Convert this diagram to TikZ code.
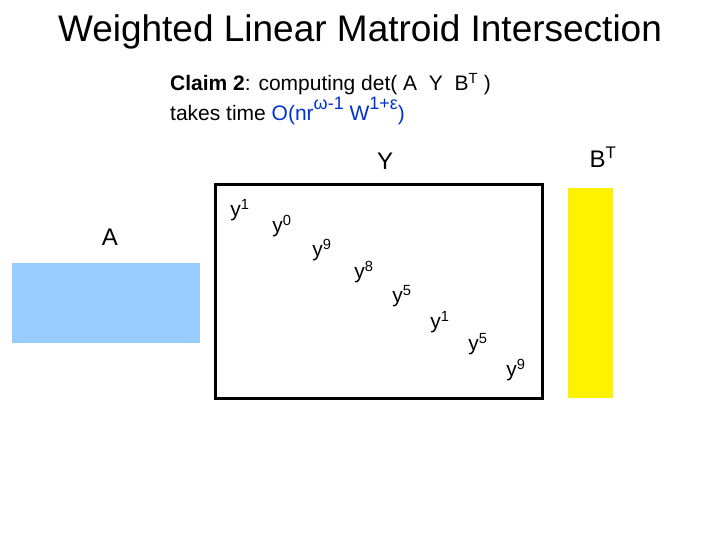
\documentclass[tikz,border=0pt]{standalone}
\usepackage{fontspec}
\setmainfont{Liberation Sans}
\begin{document}
\begin{tikzpicture}[x=1pt,y=-1pt,
  lbl/.style={inner sep=0pt,font=\fontsize{24}{28}\selectfont},
  yl/.style={inner sep=0pt,font=\fontsize{21}{24}\selectfont}]
\useasboundingbox (0,0) rectangle (720,540);
\node[inner sep=0pt,font=\fontsize{37}{42}\selectfont] (title) at (360,32) {Weighted Linear Matroid Intersection};
\node[inner sep=0pt,anchor=west,font=\fontsize{21}{24}\selectfont] (c1) at (170,84) {\textbf{Claim 2}: computing det(\ A \ Y \ B\textsuperscript{T} )};
\node[inner sep=0pt,anchor=west,font=\fontsize{21}{24}\selectfont] (c2) at (170,111) {takes time \textcolor[RGB]{0,51,204}{O(nr\raisebox{0.5em}{\fontsize{18}{20}\selectfont ω-1} W\raisebox{0.5em}{\fontsize{18}{20}\selectfont 1+ε})}};
\node[lbl] (Y) at (385,161) {Y};
\node[lbl] (BT) at (603,157) {B\textsuperscript{T}};
\node[lbl] (A) at (110,237) {A};
\fill[fill={rgb,255:red,153;green,204;blue,255}] (12,263) rectangle (200,343);
\draw[line width=3pt] (215,185) rectangle (542,398);
\fill[yellow] (568,188) rectangle (613,398);
\node[yl] (a1) at (240,210) {y\textsuperscript{1}};
\node[yl] (a2) at (282,226) {y\textsuperscript{0}};
\node[yl] (a3) at (322,250) {y\textsuperscript{9}};
\node[yl] (a4) at (364,272) {y\textsuperscript{8}};
\node[yl] (a5) at (402,296) {y\textsuperscript{5}};
\node[yl] (a6) at (440,322) {y\textsuperscript{1}};
\node[yl] (a7) at (478,344) {y\textsuperscript{5}};
\node[yl] (a8) at (516,370) {y\textsuperscript{9}};
\end{tikzpicture}
\end{document}
